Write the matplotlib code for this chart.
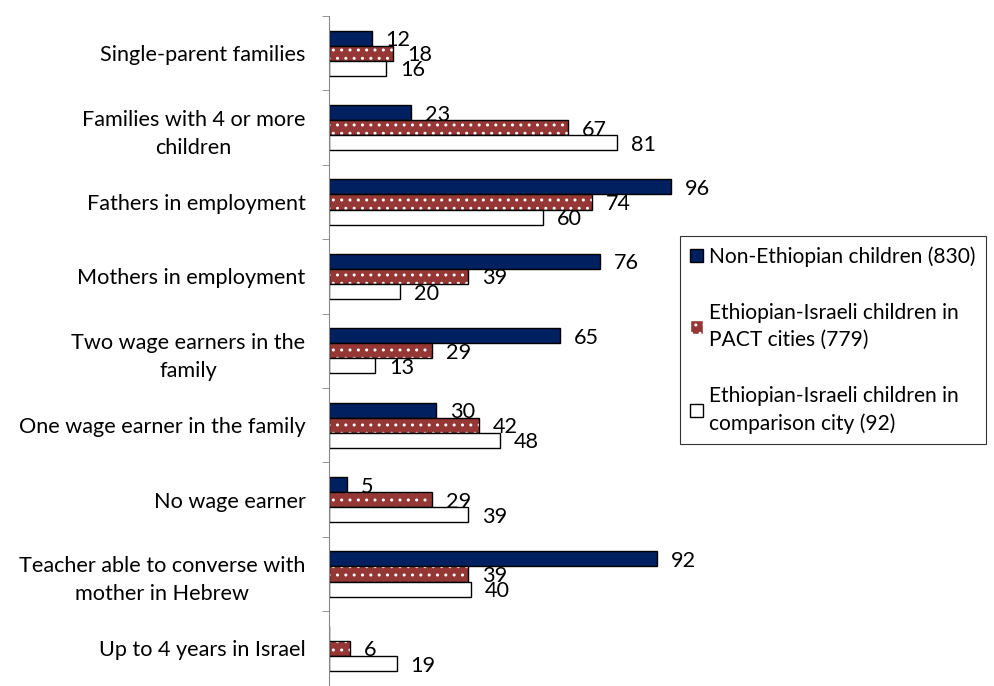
import matplotlib
matplotlib.use('Agg')
import matplotlib.pyplot as plt
import numpy as np
from matplotlib.patches import Patch

plt.rcParams['font.family'] = ['Lato', 'DejaVu Sans']

categories = ['Single-parent families', 'Families with 4 or more\nchildren',
              'Fathers in employment', 'Mothers in employment',
              'Two wage earners in the\nfamily', 'One wage earner in the family',
              'No wage earner', 'Teacher able to converse with\nmother in Hebrew',
              'Up to 4 years in Israel']
non_eth = [12, 23, 96, 76, 65, 30, 5, 92, None]
eth_pact = [18, 67, 74, 39, 29, 42, 29, 39, 6]
eth_comp = [16, 81, 60, 20, 13, 48, 39, 40, 19]
series_names = ['Non-Ethiopian children (830)',
                'Ethiopian-Israeli children in\nPACT cities (779)',
                'Ethiopian-Israeli children in\ncomparison city (92)']

blue = '#002060'
red = '#953735'
fs = 15.6

fig = plt.figure(figsize=(9.95, 6.86), dpi=100)
ax = fig.add_axes([329/995, 1-693/686, 356/995, 677/686])

n = len(categories)
y = np.arange(n)
h = 0.203

def vals(v):
    return np.array([0 if x is None else x for x in v], dtype=float)

ax.barh(y - h, vals(non_eth), height=h, color=blue, edgecolor='black', linewidth=1)
ax.barh(y, vals(eth_pact), height=h, color=red, edgecolor='white', hatch='..', linewidth=0)
ax.barh(y, vals(eth_pact), height=h, color='none', edgecolor='black', linewidth=1)
ax.barh(y + h, vals(eth_comp), height=h, color='white', edgecolor='black', linewidth=1)

for off, series in [(-h, non_eth), (0, eth_pact), (h, eth_comp)]:
    for yi, v in zip(y, series):
        if v is None:
            continue
        ax.annotate(str(v), (v, yi + off), xytext=(10, -1.5), textcoords='offset points',
                    va='center', ha='left', fontsize=fs)

ax.set_xlim(0, 100)
ax.set_ylim(n - 0.5 + 0.1, -0.5)
ax.set_yticks(y)
ax.set_yticklabels(categories, fontsize=fs, ha='right', multialignment='center',
                   linespacing=1.5)
ax.tick_params(axis='y', which='major', length=0, pad=17)
ax.set_yticks(np.arange(-0.5, n, 1), minor=True)
ax.tick_params(axis='y', which='minor', length=5, color='#888888', direction='out')
ax.set_xticks([])
for s in ['top', 'right', 'bottom']:
    ax.spines[s].set_visible(False)
ax.spines['left'].set_color('#888888')

handles = [Patch(facecolor=blue, edgecolor='black'),
           Patch(facecolor=red, edgecolor='white', hatch='..'),
           Patch(facecolor='white', edgecolor='black')]
leg = fig.legend(handles, series_names, loc='upper left', bbox_to_anchor=(680/995, 1-236/686),
                 fontsize=15.1, frameon=True, fancybox=False, edgecolor='black',
                 handlelength=0.6, handleheight=0.6, handletextpad=0.3,
                 labelspacing=1.7, borderpad=0.5, borderaxespad=0)
for t in leg.get_texts():
    t.set_linespacing(1.45)
leg.get_frame().set_linewidth(0.8)

fig.savefig('out.png', dpi=100)
